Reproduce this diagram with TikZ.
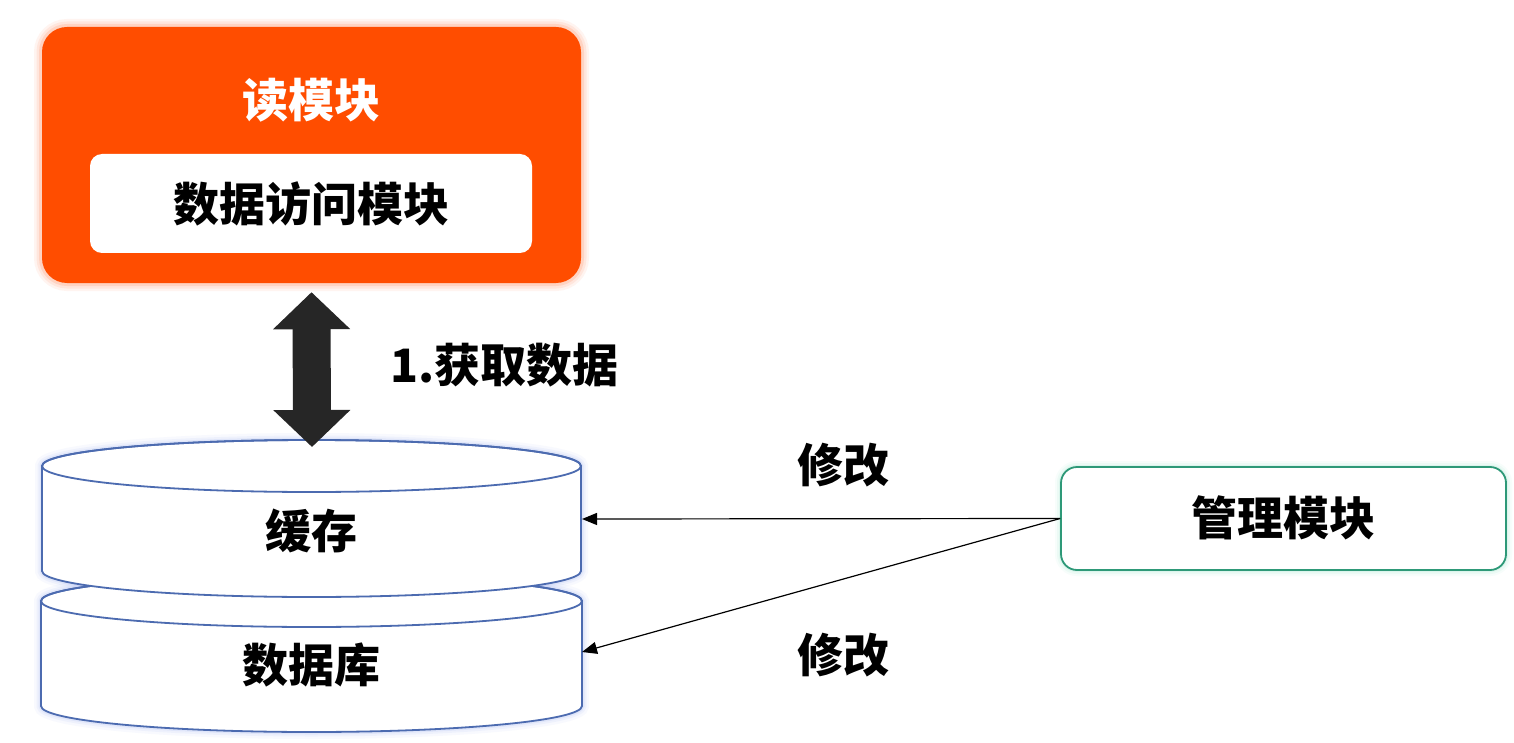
\documentclass[tikz,border=0pt]{standalone}
\usepackage{fontspec}
\setmainfont{Noto Sans CJK SC}
\usetikzlibrary{arrows.meta}
\definecolor{readorange}{HTML}{FF4D00}
\definecolor{cylblue}{HTML}{4C6BB0}
\definecolor{glowblue}{HTML}{8FA4F0}
\definecolor{mgmtgreen}{HTML}{2E9978}
\definecolor{glowgreen}{HTML}{7FDDBE}
\definecolor{arrowdark}{HTML}{262626}
\tikzset{
  bigtext/.style={font=\fontsize{46}{50}\selectfont\bfseries, inner sep=0pt},
  readbox/.style={fill=readorange, rounded corners=25pt, minimum width=539pt, minimum height=256pt, inner sep=0pt},
  innerbox/.style={fill=white, rounded corners=12pt, minimum width=442pt, minimum height=99pt, inner sep=0pt},
  mgmtbox/.style={draw=mgmtgreen, line width=1.8pt, fill=white, rounded corners=16pt, minimum width=445pt, minimum height=103pt, inner sep=0pt},
  cylline/.style={draw=cylblue, line width=1.8pt},
  conn/.style={draw=black, line width=1.2pt, -{Triangle[length=15pt,width=12pt]}},
  bigarrow/.style={draw=arrowdark, line width=38pt, {Triangle[length=37pt,width=75pt]}-{Triangle[length=37pt,width=75pt]}}
}
\begin{document}
\begin{tikzpicture}[x=1pt,y=-1pt]
\useasboundingbox[fill=white] (0,0) rectangle (1514,743);
% glow of the read module
\foreach \w/\o in {16/0.06,11/0.08,6/0.12}
  \draw[readorange, line width=\w pt, opacity=\o, rounded corners=25pt] (42,27) rectangle (581,283);
\node[readbox] (read) at (311.5,155) {};
\node[bigtext, text=white] (readtitle) at (311.5,100) {读模块};
\node[innerbox] (dam) at (311,203.5) {};
\node[bigtext] (damtext) at (311,203.5) {数据访问模块};
% cylinders: glow
\foreach \w/\o in {14/0.06,9/0.09,5/0.14}{
  \draw[glowblue, line width=\w pt, opacity=\o] (41,601) -- (41,706) arc[start angle=180,end angle=0,x radius=270.5,y radius=26] -- (582,601) arc[start angle=0,end angle=-180,x radius=270.5,y radius=26] -- cycle;
  \draw[glowblue, line width=\w pt, opacity=\o] (42,466) -- (42,571) arc[start angle=180,end angle=0,x radius=269.5,y radius=26] -- (581,466) arc[start angle=0,end angle=-180,x radius=269.5,y radius=26] -- cycle;
}
% lower cylinder (database)
\path[cylline, fill=white] (41,601) -- (41,706) arc[start angle=180,end angle=0,x radius=270.5,y radius=26] -- (582,601) arc[start angle=0,end angle=-180,x radius=270.5,y radius=26] -- cycle;
\draw[cylline] (311.5,601) ellipse[x radius=270.5, y radius=26];
% upper cylinder (cache)
\path[cylline, fill=white] (42,466) -- (42,571) arc[start angle=180,end angle=0,x radius=269.5,y radius=26] -- (581,466) arc[start angle=0,end angle=-180,x radius=269.5,y radius=26] -- cycle;
\draw[cylline] (311.5,466) ellipse[x radius=269.5, y radius=26];
\node[bigtext] (cache) at (311.5,531) {缓存};
\node[bigtext] (db) at (311.5,665) {数据库};
\coordinate (cacheR) at (582,519);
\coordinate (dbR) at (582,652);
\coordinate (cacheTop) at (312,447);
% big double arrow
\draw[bigarrow] ([yshift=-9pt]read.south) -- (cacheTop);
\node[bigtext, anchor=west] (fetch) at (390,365) {1.获取数据};
% management module
\foreach \w/\o in {12/0.06,8/0.09,4/0.14}
  \draw[glowgreen, line width=\w pt, opacity=\o, rounded corners=16pt] (1061,467) rectangle (1506,570);
\node[mgmtbox] (mgmt) at (1283.5,518.5) {};
\node[bigtext] (mgmttext) at (1283.5,518) {管理模块};
\draw[conn] (mgmt.west) -- (cacheR);
\draw[conn] (mgmt.west) -- (dbR);
\node[bigtext] (mod1) at (843,465) {修改};
\node[bigtext] (mod2) at (843,655) {修改};
\end{tikzpicture}
\end{document}
